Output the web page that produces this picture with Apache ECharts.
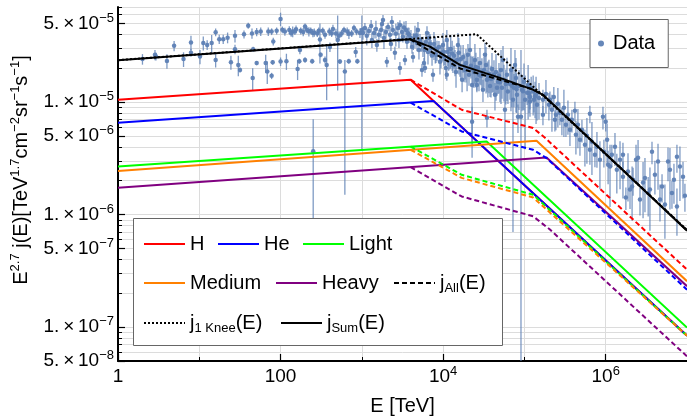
<!DOCTYPE html>
<html>
<head>
<meta charset="utf-8">
<script src="https://cdn.jsdelivr.net/npm/echarts@6/dist/echarts.min.js"></script>
<style>
html, body { margin: 0; padding: 0; background: #fff; }
#chart { width: 687px; height: 420px; }
</style>
</head>
<body>
<div id="chart"></div>
<script>
// ---- axis ranges and tick labels ----
const xRange = [1, 1e7];
const yRange = [5e-8, 7e-5];
const xTickValues = [1, 10, 100, 1e3, 1e4, 1e5, 1e6, 1e7];
const xMajorValues = [1, 100, 1e4, 1e6];
const xTickLabels = ['1', '100', '10^4', '10^6'];
const yMajorValues = [5e-8, 1e-7, 5e-7, 1e-6, 5e-6, 1e-5, 5e-5];
const yTickLabels = ['5.×10^−8', '1.×10^−7', '5.×10^−7', '1.×10^−6', '5.×10^−6', '1.×10^−5', '5.×10^−5'];
const yMinorValues = [6e-8, 7e-8, 8e-8, 9e-8, 2e-7, 3e-7, 4e-7, 6e-7, 7e-7, 8e-7, 9e-7,
  2e-6, 3e-6, 4e-6, 6e-6, 7e-6, 8e-6, 9e-6, 2e-5, 3e-5, 4e-5, 6e-5, 7e-5];

// ---- model spectra: [E (TeV), E^2.7 j(E)] ----
const lineH = [[1, 1.05e-5], [3980, 1.58e-5], [1e7, 8.4e-8]];
const lineHe = [[1, 6.55e-6], [7600, 1.025e-5], [1e7, 8.4e-8]];
const lineLight = [[1, 2.68e-6], [3.43e4, 4.47e-6], [1e7, 9.9e-8]];
const lineMedium = [[1, 2.44e-6], [1.41e5, 4.53e-6], [1e7, 2.56e-7]];
const lineHeavy = [[1, 1.73e-6], [1.87e5, 3.22e-6], [1e7, 2.31e-7]];

const allKneeH = [[3980, 1.58e-5], [1.69e4, 8.55e-6], [1.28e5, 5.88e-6], [1.79e5, 4.82e-6], [1e7, 3.25e-7]];
const allKneeHe = [[3980, 9.88e-6], [1.69e4, 5.48e-6], [1.28e5, 3.77e-6], [1.87e5, 3.18e-6], [1e7, 2.15e-7]];
const allKneeLight = [[3980, 4.03e-6], [1.69e4, 2.26e-6], [1.06e5, 1.56e-6], [1.28e5, 1.5e-6], [1e7, 8.4e-8]];
const allKneeMedium = [[3980, 3.77e-6], [1.69e4, 2.12e-6], [1.28e5, 1.42e-6], [1e7, 8.4e-8]];
const allKneeHeavy = [[3980, 2.64e-6], [1.69e4, 1.45e-6], [1.28e5, 9.66e-7], [2.06e5, 7.36e-7], [1e7, 5.5e-8]];

const jAll = [[3910, 3.62e-5], [1.61e4, 1.99e-5], [5.0e4, 1.58e-5], [1.27e5, 1.3e-5], [1.69e5, 1.16e-5], [1e7, 7.25e-7]];
const jOneKnee = [[1, 2.36e-5], [2.58e4, 4.01e-5], [1.55e5, 1.21e-5], [1e7, 7.3e-7]];
const jSum = [[1, 2.36e-5], [3910, 3.62e-5], [6880, 3.11e-5], [1.61e4, 2.14e-5], [5.0e4, 1.64e-5],
  [1.27e5, 1.29e-5], [1.69e5, 1.16e-5], [1e7, 7.2e-7]];

// ---- measurements: [E (TeV), E^2.7 j(E), error] or [E, value, error below, error above] ----
const dataBelow100TeV = [
  [2.0, 2.41e-5, 2.6e-6], [2.85, 2.63e-5, 2.8e-6], [2.93, 2.54e-5, 2.0e-6], [4.0, 2.32e-5, 3.4e-6],
  [4.9, 3.16e-5, 3.3e-6], [6.4, 2.41e-5, 3.6e-6], [7.9, 3.39e-5, 5.0e-6], [7.9, 2.75e-5, 2.2e-6],
  [10.2, 2.54e-5, 3.7e-6], [11.2, 3.35e-5, 4.8e-6], [12.5, 3.22e-5, 3.2e-6], [14.2, 3.35e-5, 6.0e-6],
  [15.9, 4.17e-5, 3.3e-6], [15.9, 2.37e-5, 3.4e-6], [17.6, 3.62e-5, 3.4e-6], [19.7, 3.62e-5, 3.4e-6],
  [22.3, 3.74e-5, 4.1e-6], [24.5, 2.26e-5, 3.2e-6], [27.5, 3.88e-5, 5.0e-6], [27.5, 2.95e-5, 2.9e-6],
  [30.2, 2.14e-5, 4.4e-6], [31.7, 1.93e-5, 1.0e-6], [35.5, 4.0e-5, 3.2e-6], [40, 4.78e-5, 2.9e-6],
  [44.5, 4.08e-5, 4.3e-6], [45.4, 1.64e-5, 3.6e-6], [46, 2.95e-5, 1.5e-6], [50.8, 4.2e-5, 3.6e-6],
  [50.8, 2.22e-5, 1.0e-6], [57, 4.23e-5, 3.6e-6], [65.6, 2.22e-5, 4.1e-6], [68.6, 1.87e-5, 4.2e-6],
  [70.6, 4.23e-5, 3.6e-6], [77.6, 4.23e-5, 2.9e-6], [77.6, 1.71e-5, 1.1e-6], [80, 2.26e-5, 1.1e-6],
  [81.3, 3.46e-5, 2.8e-6], [89.5, 4.3e-5, 3.1e-6]
];
const data100To1000TeV = [
  [100, 5.48e-5, 7.5e-6], [100, 2.29e-5, 2.0e-6], [105, 4.4e-5, 3.0e-6], [113, 4.23e-5, 3.4e-6],
  [118, 2.31e-5, 3.8e-6], [128, 4.38e-5, 3.5e-6], [135, 4.1e-5, 3.0e-6], [141, 4.23e-5, 4.6e-6],
  [150, 4.25e-5, 3.0e-6], [155, 4.45e-5, 3.5e-6], [162, 1.97e-5, 4.0e-6], [170, 2.31e-5, 1.2e-6],
  [173, 2.91e-5, 2.5e-6], [177, 4.3e-5, 3.1e-6], [190, 4.2e-5, 3.5e-6], [200, 4.7e-5, 3.0e-6],
  [200, 2.37e-5, 1.3e-6], [210, 4.4e-5, 3.0e-6], [223, 4.23e-5, 4.0e-6], [235, 4.3e-5, 3.0e-6],
  [245, 2.31e-5, 1.2e-6], [250, 4.12e-5, 3.5e-6], [252, 3.65e-6, 3.4e-6], [260, 4.15e-5, 3.5e-6],
  [283, 4.08e-5, 3.0e-6], [295, 4.3e-5, 3.0e-6], [305, 3.6e-5, 1.4e-5], [311, 2.63e-5, 1.3e-6],
  [330, 4.3e-5, 3.0e-6], [352, 3.96e-5, 3.0e-6], [352, 2.37e-5, 1.7e-6], [369, 2.14e-5, 1.1e-5],
  [398, 4.23e-5, 3.5e-6], [405, 3.09e-5, 3.0e-6], [425, 4.08e-5, 3.0e-6], [441, 4.47e-5, 4.0e-6],
  [480, 4.08e-5, 4.0e-6], [504, 3.57e-5, 2.3e-5], [523, 3.88e-5, 3.5e-6], [537, 2.29e-5, 1.1e-6],
  [563, 4.08e-5, 3.0e-6], [603, 4.38e-5, 3.0e-6], [618, 1.87e-5, 1.72e-5, 5.0e-6], [660, 4.23e-5, 3.6e-6],
  [690, 2.31e-5, 1.2e-6], [693, 4.04e-5, 4.0e-6], [750, 4.08e-5, 3.0e-6], [800, 4.56e-5, 3.0e-6],
  [840, 2.79e-5, 3.0e-6], [860, 4.23e-5, 3.0e-6], [880, 2.31e-5, 1.2e-6], [948, 4.12e-5, 4.0e-6],
  [1000, 4.38e-5, 4.0e-5, 1.5e-5]
];
const dataKneeRegion = [
  [1030, 4.12e-5, 5.4e-6], [1090, 4.56e-5, 4.9e-6], [1150, 3.88e-5, 6.9e-6], [1220, 4.29e-5, 3.6e-6],
  [1300, 4.75e-5, 6.2e-6], [1330, 3.57e-5, 5.5e-6], [1410, 4.12e-5, 4.4e-6], [1490, 4.47e-5, 8.0e-6],
  [1530, 3.22e-5, 4.2e-6], [1620, 3.96e-5, 4.2e-6], [1720, 4.38e-5, 6.7e-6], [1770, 4.95e-5, 5.3e-6],
  [1820, 5.37e-5, 5.7e-6], [1870, 3.72e-5, 7.5e-6], [1980, 4.2e-5, 5.5e-6], [2030, 2.28e-5, 2.4e-6],
  [2100, 4.66e-5, 4.0e-6], [2220, 3.96e-5, 7.0e-6], [2280, 3.28e-5, 4.3e-6], [2340, 5.15e-5, 6.7e-6],
  [2410, 4.38e-5, 4.7e-6], [2550, 2.74e-5, 3.6e-6], [2620, 4.04e-5, 9.2e-6], [2780, 4.56e-5, 5.9e-6],
  [2860, 3.57e-5, 5.5e-6], [2940, 2.01e-5, 2.6e-6], [2940, 4.85e-5, 5.0e-6], [3110, 4.2e-5, 7.5e-6],
  [3200, 3.8e-5, 4.1e-6], [3300, 4.6e-5, 6.0e-6], [3390, 2.37e-5, 2.5e-6], [3490, 4.38e-5, 8.8e-6],
  [3590, 3.43e-5, 4.5e-6], [3700, 4.1e-5, 5.0e-6], [3800, 3.96e-5, 6.1e-6], [4020, 3.72e-5, 6.6e-6],
  [4140, 3.09e-5, 4.0e-6], [4260, 2.52e-5, 2.7e-6], [4300, 3.5e-5, 6.0e-6], [4500, 3.88e-5, 8.8e-6],
  [4700, 3.9e-5, 7.0e-6], [4770, 3.35e-5, 5.2e-6], [4900, 4.38e-5, 7.8e-6], [5040, 2.91e-5, 5.2e-6],
  [5190, 3.57e-5, 4.6e-6], [5400, 3.3e-5, 5.0e-6], [5490, 1.93e-5, 2.5e-6], [5650, 3.16e-5, 6.4e-6],
  [5810, 2.23e-5, 2.4e-6], [5900, 2.9e-5, 6.0e-6], [5980, 2.01e-5, 2.0e-6], [6150, 3.43e-5, 5.3e-6],
  [6330, 4.12e-5, 6.0e-6], [6510, 2.79e-5, 6.3e-6], [6700, 3.72e-5, 4.8e-6], [6900, 3.3e-5, 7.0e-6],
  [7090, 3.03e-5, 5.4e-6], [7300, 2.6e-5, 5.0e-6], [7500, 1.75e-5, 2.3e-6], [7710, 3.28e-5, 9.1e-6],
  [8000, 3.0e-5, 8.0e-6], [8160, 2.63e-5, 4.1e-6], [8400, 2.91e-5, 5.9e-6], [8880, 3.09e-5, 4.0e-6],
  [9140, 2.28e-5, 5.2e-6], [9400, 2.6e-5, 6.0e-6], [9670, 2.74e-5, 4.9e-6], [9950, 3.22e-5, 9.0e-6],
  [1.02e4, 2.8e-5, 7.0e-6], [1.05e4, 2.52e-5, 3.9e-6], [1.08e4, 2.01e-5, 4.1e-6],
  [1.11e4, 3.57e-5, 8.0e-6], [1.11e4, 1.75e-5, 2.0e-6], [1.14e4, 2.79e-5, 7.0e-6], [1.17e4, 2.5e-5, 6.0e-6],
  [1.21e4, 2.37e-5, 4.2e-6], [1.24e4, 2.97e-5, 9.8e-6], [1.29e4, 2.7e-5, 8.0e-6], [1.32e4, 2.14e-5, 3.3e-6],
  [1.36e4, 2.58e-5, 5.9e-6], [1.4e4, 2.3e-5, 6.0e-6], [1.44e4, 1.85e-5, 5.1e-6],
  [1.48e4, 2.37e-5, 4.2e-6], [1.52e4, 3.22e-5, 9.0e-6], [1.56e4, 2.74e-5, 9.8e-6], [1.61e4, 2.1e-5, 4.2e-6],
  [1.65e4, 2.4e-5, 8.0e-6], [1.71e4, 1.58e-5, 3.6e-6], [1.76e4, 2.52e-5, 7.0e-6], [1.81e4, 2.1e-5, 6.0e-6],
  [1.86e4, 1.93e-5, 3.4e-6], [1.91e4, 2.23e-5, 7.4e-6], [1.97e4, 1.95e-5, 7.0e-6],
  [2.02e4, 2.63e-5, 6.6e-6], [2.08e4, 1.75e-5, 3.5e-6], [2.14e4, 2.91e-5, 1.05e-5], [2.2e4, 2.1e-5, 4.8e-6],
  [2.27e4, 6.69e-6, 2.4e-6], [2.27e4, 1.42e-5, 1.1e-5], [2.33e4, 1.95e-5, 6.0e-6], [2.4e4, 1.85e-5, 5.1e-6],
  [2.46e4, 2.37e-5, 9.2e-6], [2.53e4, 2.05e-5, 7.0e-6],
  [2.6e4, 1.58e-5, 3.2e-6], [2.6e4, 1.42e-5, 2.0e-6], [2.68e4, 2.01e-5, 5.1e-6], [2.76e4, 1.75e-5, 5.0e-6],
  [2.84e4, 2.23e-5, 8.0e-6], [2.92e4, 1.71e-5, 3.0e-6], [3.0e4, 1.85e-5, 6.0e-6], [3.09e4, 1.29e-5, 2.9e-6],
  [3.18e4, 1.93e-5, 5.9e-6], [3.27e4, 2.63e-5, 7.3e-6], [3.37e4, 2.14e-5, 9.5e-6], [3.46e4, 7.26e-6, 1.3e-6],
  [3.46e4, 1.58e-5, 3.6e-6], [3.55e4, 1.7e-5, 6.0e-6], [3.66e4, 1.79e-5, 5.9e-6], [3.77e4, 1.39e-5, 2.8e-6],
  [3.88e4, 1.6e-5, 5.0e-6], [3.99e4, 1.97e-5, 7.6e-6], [4.1e4, 1.64e-5, 4.1e-6], [4.22e4, 1.75e-5, 6.0e-6],
  [4.34e4, 1.16e-5, 3.2e-6], [4.47e4, 1.85e-5, 8.2e-6], [4.6e4, 1.34e-5, 2.0e-6], [4.73e4, 1.52e-5, 3.4e-6],
  [4.86e4, 1.71e-5, 5.2e-6], [5.0e4, 1.5e-5, 5.0e-6], [5.15e4, 1.93e-5, 9.7e-6], [5.3e4, 1.34e-5, 2.7e-6],
  [5.45e4, 2.37e-5, 7.8e-6], [5.6e4, 1.58e-5, 5.7e-6], [5.76e4, 8.55e-6, 6.6e-6], [5.9e4, 1.45e-5, 5.0e-6],
  [6.1e4, 1.75e-5, 7.3e-6], [6.27e4, 1.24e-5, 2.8e-6], [6.64e4, 1.45e-5, 4.0e-6], [6.83e4, 1.93e-5, 1.1e-5],
  [7.0e4, 1.4e-5, 5.0e-6], [7.23e4, 1.05e-5, 9.8e-6], [7.44e4, 1.34e-5, 4.4e-6], [7.65e4, 2.14e-5, 7.7e-6],
  [7.87e4, 1.64e-5, 8.3e-6], [8.0e4, 1.3e-5, 5.0e-6], [8.1e4, 1.16e-5, 2.6e-6], [8.33e4, 7.41e-6, 2.1e-6],
  [8.57e4, 1.39e-5, 5.4e-6], [9.07e4, 7.41e-6, 7.36e-6, 2.17e-5], [9.33e4, 1.29e-5, 4.6e-6],
  [9.6e4, 1.25e-5, 4.0e-6], [9.88e4, 1.52e-5, 6.8e-6], [1.02e5, 1.05e-5, 6.7e-6],
  [1.08e5, 1.21e-5, 2.7e-6], [1.11e5, 1.42e-5, 7.2e-6], [1.14e5, 1.2e-5, 4.0e-6], [1.17e5, 1.11e-5, 3.7e-6],
  [1.17e5, 1.01e-5, 1.5e-6], [1.21e5, 1.34e-5, 3.4e-6], [1.28e5, 1.24e-5, 4.8e-6], [1.31e5, 1.05e-5, 2.4e-6],
  [1.35e5, 1.12e-5, 4.0e-6], [1.39e5, 1.16e-5, 5.2e-6], [1.43e5, 9.46e-6, 2.6e-6], [1.51e5, 1.09e-5, 3.9e-6]
];
const dataAboveKnee = [
  [1.69e5, 1.05e-5, 2.4e-6], [1.69e5, 7.72e-6, 1.5e-6], [1.84e5, 1.18e-5, 3.9e-6], [2.0e5, 9.46e-6, 2.6e-6],
  [2.06e5, 1.05e-5, 1.9e-6], [2.18e5, 8.55e-6, 3.1e-6], [2.3e5, 1.11e-5, 2.5e-6], [2.37e5, 6.97e-6, 1.5e-6],
  [2.44e5, 7.72e-6, 2.1e-6], [2.58e5, 9.65e-6, 3.7e-6], [2.73e5, 8.04e-6, 1.8e-6], [2.89e5, 6.97e-6, 1.9e-6],
  [3.06e5, 8.9e-6, 4.0e-6], [3.24e5, 6.29e-6, 1.4e-6], [3.43e5, 7.72e-6, 2.6e-6], [3.63e5, 5.68e-6, 1.6e-6],
  [3.84e5, 6.97e-6, 1.6e-6], [4.18e5, 8.38e-6, 1.7e-6], [4.3e5, 5.13e-6, 1.7e-6], [4.55e5, 6.29e-6, 2.4e-6],
  [4.82e5, 4.63e-6, 1.3e-6], [5.1e5, 5.68e-6, 1.3e-6], [5.55e5, 4.18e-6, 1.5e-6], [5.87e5, 5.03e-6, 2.2e-6],
  [6.39e5, 7.88e-6, 1.4e-6], [6.39e5, 3.77e-6, 1.0e-6], [6.77e5, 4.45e-6, 2.2e-6], [7.37e5, 3.41e-6, 7.7e-7],
  [7.8e5, 4.01e-6, 1.4e-6], [8.49e5, 3.08e-6, 1.4e-6], [9.25e5, 7.41e-6, 1.7e-6], [9.5e5, 3.62e-6, 1.0e-6],
  [1.0e6, 6.69e-6, 1.2e-6], [1.04e6, 4.63e-6, 1.8e-6], [1.07e6, 2.78e-6, 9.2e-7], [1.13e6, 2.67e-6, 1.5e-6],
  [1.19e6, 3.41e-6, 7.7e-7], [1.3e6, 4.01e-6, 1.3e-6], [1.37e6, 2.51e-6, 9.7e-7], [1.5e6, 3.08e-6, 1.4e-6],
  [1.63e6, 3.41e-6, 9.5e-7], [1.63e6, 2.17e-6, 7.8e-7], [1.77e6, 1.42e-6, 3.2e-7], [1.88e6, 2.41e-6, 1.1e-6],
  [1.99e6, 1.67e-6, 5.5e-7], [2.11e6, 1.78e-6, 9.0e-7], [2.17e6, 2.04e-6, 5.7e-7], [2.36e6, 3.08e-6, 1.1e-6],
  [2.5e6, 3.2e-6, 1.4e-6], [2.64e6, 1.36e-6, 3.8e-7], [2.88e6, 1.93e-6, 1.0e-6], [3.04e6, 2.12e-6, 1.07e-6],
  [3.33e6, 1.56e-6, 6.0e-7], [3.5e6, 1.67e-6, 9.5e-7], [3.71e6, 3.62e-6, 8.2e-7], [4.03e6, 2.26e-6, 7.5e-7],
  [4.4e6, 2.96e-6, 1.3e-6], [4.65e6, 1.36e-6, 4.9e-7], [4.93e6, 1.78e-6, 5.0e-7], [5.35e6, 1.23e-6, 6.2e-7],
  [5.84e6, 2.96e-6, 9.8e-7], [6.17e6, 2.51e-6, 1.4e-6], [6.53e6, 1.56e-6, 4.3e-7], [6.91e6, 2.04e-6, 7.9e-7],
  [7.52e6, 3.27e-6, 9.1e-7], [7.52e6, 1.18e-6, 5.3e-7], [8.19e6, 2.67e-6, 1.35e-6], [8.93e6, 2.17e-6, 7.8e-7],
  [9.43e6, 1.47e-6, 4.1e-7]
];

// ---- drawing ----
const FONT = "'Liberation Sans', Arial, Helvetica, sans-serif";
const DATA_COLOR = '#5E81B5';
const lg = Math.log10;
const toLog = pts => pts.map(p => [lg(p[0]), lg(p[1])]);
const measurements = [].concat(dataBelow100TeV, data100To1000TeV, dataKneeRegion, dataAboveKnee);
const pointData = measurements.map(r => [lg(r[0]), lg(r[1])]);
const barData = measurements.map(r => {
  const below = r[2];
  const above = r.length > 3 ? r[3] : r[2];
  const low = Math.max(r[1] - below, yRange[0]);
  return [lg(r[0]), lg(low), lg(r[1] + above)];
});

// "m^e" -> rich text with a superscript exponent
function supText(s, spaced) {
  const parts = s.split('^');
  let base = parts[0];
  if (spaced) base = base.replace('×', '\u2009×\u2009');
  return parts.length > 1 ? '{b|' + base + '}{sup|' + parts[1] + '}' : '{b|' + base + '}';
}
function nearestLabel(v, values, labels) {
  for (let i = 0; i < values.length; i++) {
    if (Math.abs(lg(values[i]) - v) < 1e-6) return labels[i];
  }
  return '';
}

const supRich = {
  b: { fontSize: 19, lineHeight: 24, fontFamily: FONT, color: '#000' },
  sup: { fontSize: 13, lineHeight: 12, verticalAlign: 'top', fontFamily: FONT, color: '#000' }
};
const legendRich = {
  n: { fontSize: 20, lineHeight: 24, fontFamily: FONT, color: '#000' },
  sub: { fontSize: 13, lineHeight: 11, verticalAlign: 'bottom', fontFamily: FONT, color: '#000' }
};

function lineSeries(name, pts, color, type, width) {
  return {
    type: 'line', name: name, data: toLog(pts), symbol: 'none', silent: true, z: 3,
    lineStyle: { color: color, width: width || 2, type: type || 'solid', cap: 'butt' },
    itemStyle: { color: color }
  };
}

const DASH = [5, 3];
const DOT = [2, 2];
const series = [
  {
    type: 'custom', name: 'Data bars', data: barData, z: 1, silent: true, clip: true,
    encode: { x: 0, y: [1, 2] },
    renderItem: function (params, api) {
      const a = api.coord([api.value(0), api.value(1)]);
      const b = api.coord([api.value(0), api.value(2)]);
      return {
        type: 'line',
        shape: { x1: a[0], y1: a[1], x2: b[0], y2: b[1] },
        style: { stroke: DATA_COLOR, lineWidth: 1.3, opacity: 0.8 }
      };
    }
  },
  {
    type: 'scatter', name: 'Data', data: pointData, symbol: 'circle', symbolSize: 4.5, z: 2, silent: true,
    itemStyle: { color: DATA_COLOR, opacity: 0.95 }
  },
  lineSeries('H', lineH, '#ff0000'),
  lineSeries('He', lineHe, '#0000ff'),
  lineSeries('Light', lineLight, '#00ff00'),
  lineSeries('Medium', lineMedium, '#ff8000'),
  lineSeries('Heavy', lineHeavy, '#800080'),
  lineSeries('H all-knee', allKneeH, '#ff0000', DASH),
  lineSeries('He all-knee', allKneeHe, '#0000ff', DASH),
  lineSeries('Light all-knee', allKneeLight, '#00ff00', DASH),
  lineSeries('Medium all-knee', allKneeMedium, '#ff8000', DASH),
  lineSeries('Heavy all-knee', allKneeHeavy, '#800080', DASH),
  lineSeries('j_All(E)', jAll, '#000000', DASH),
  lineSeries('j_1 Knee(E)', jOneKnee, '#000000', DOT),
  lineSeries('j_Sum(E)', jSum, '#000000')
];

// legend entries of the model box: name, icon left, row centre
const legendEntries = [
  ['H', 143, 244], ['He', 217, 244], ['Light', 302, 244],
  ['Medium', 143, 283], ['Heavy', 275, 283], ['j_All(E)', 393, 283],
  ['j_1 Knee(E)', 143, 323], ['j_Sum(E)', 280, 323]
];
function legendLabel(name) {
  const m = name.match(/^j_(.+)\(E\)$/);
  if (m) return '{n|j}{sub|' + m[1] + '}{n|(E)}';
  return '{n|' + name + '}';
}
const legends = legendEntries.map(e => ({
  data: [e[0]], left: e[1], top: e[2] - 12, padding: 0, itemGap: 0,
  itemWidth: 41, itemHeight: 14, selectedMode: false, z: 60,
  itemStyle: { opacity: 0 },
  formatter: legendLabel,
  textStyle: { fontSize: 20, lineHeight: 24, fontFamily: FONT, color: '#000', rich: legendRich }
}));
legends.push({
  data: [{ name: 'Data', icon: 'circle' }], left: 590, top: 19.5, padding: [12, 13, 12, 8],
  itemWidth: 14, itemHeight: 6, selectedMode: false, z: 60,
  backgroundColor: '#ffffff', borderColor: '#666666', borderWidth: 1,
  textStyle: { fontSize: 20, lineHeight: 24, fontFamily: FONT, color: '#000' }
});

const xTickLog = xTickValues.map(lg);
const xMajorLog = xMajorValues.map(lg);
const yAllLog = yMajorValues.concat(yMinorValues).map(lg).sort((a, b) => a - b);
const yMajorLog = yMajorValues.map(lg);

const chart = echarts.init(document.getElementById('chart'), null, { renderer: 'canvas' });
chart.setOption({
  animation: false,
  backgroundColor: '#ffffff',
  grid: { left: 118, right: 0, top: 7, bottom: 59, containLabel: false, outerBoundsMode: 'none' },
  xAxis: [
    {
      type: 'value', min: lg(xRange[0]), max: lg(xRange[1]), position: 'bottom',
      name: 'E [TeV]', nameLocation: 'middle', nameGap: 33,
      nameTextStyle: { fontSize: 20, lineHeight: 24, fontFamily: FONT, color: '#000' },
      axisLine: { show: true, onZero: false, lineStyle: { color: '#000', width: 2 } },
      axisTick: { show: true, inside: true, length: 4, customValues: xTickLog, lineStyle: { color: '#000', width: 1 } },
      axisLabel: {
        show: true, margin: 4, customValues: xMajorLog,
        formatter: v => supText(nearestLabel(v, xMajorValues, xTickLabels), false),
        rich: supRich
      },
      splitLine: { show: true, lineStyle: { color: '#dcdcdc', width: 1 } }
    },
    {
      type: 'value', min: lg(xRange[0]), max: lg(xRange[1]), position: 'bottom', offset: 0,
      axisLine: { show: false, onZero: false },
      axisTick: { show: true, inside: true, length: 7, customValues: xMajorLog, lineStyle: { color: '#000', width: 1.2 } },
      axisLabel: { show: false },
      splitLine: { show: false }
    }
  ],
  yAxis: [
    {
      type: 'value', min: lg(yRange[0]), max: lg(yRange[1]), position: 'left',
      axisLine: { show: true, onZero: false, lineStyle: { color: '#000', width: 2 } },
      axisTick: { show: true, inside: true, length: 4, customValues: yAllLog, lineStyle: { color: '#000', width: 1 } },
      axisLabel: {
        show: true, margin: 4, customValues: yMajorLog,
        formatter: v => supText(nearestLabel(v, yMajorValues, yTickLabels), true),
        rich: supRich
      },
      splitLine: { show: true, lineStyle: { color: '#dcdcdc', width: 1 } }
    },
    {
      type: 'value', min: lg(yRange[0]), max: lg(yRange[1]), position: 'left', offset: 0,
      axisLine: { show: false, onZero: false },
      axisTick: { show: true, inside: true, length: 7, customValues: yMajorLog, lineStyle: { color: '#000', width: 1.2 } },
      axisLabel: { show: false },
      splitLine: { show: false }
    }
  ],
  legend: legends,
  graphic: [
    {
      type: 'rect', z: 50, silent: true,
      shape: { x: 133.5, y: 218.5, width: 369, height: 127 },
      style: { fill: '#ffffff', stroke: '#666666', lineWidth: 1 }
    },
    {
      type: 'text', x: 21, y: 170, rotation: Math.PI / 2, z: 60, silent: true,
      style: {
        text: '{b|E}{sup|2.7}{b| j(E)[TeV}{sup|1.7}{b|cm}{sup|−2}{b|sr}{sup|−1}{b|s}{sup|−1}{b|]}',
        align: 'center', verticalAlign: 'middle',
        rich: {
          b: { fontSize: 20, lineHeight: 24, fontFamily: FONT, fill: '#000' },
          sup: { fontSize: 13, lineHeight: 12, verticalAlign: 'top', fontFamily: FONT, fill: '#000' }
        }
      }
    }
  ],
  series: series
});
</script>
</body>
</html>
